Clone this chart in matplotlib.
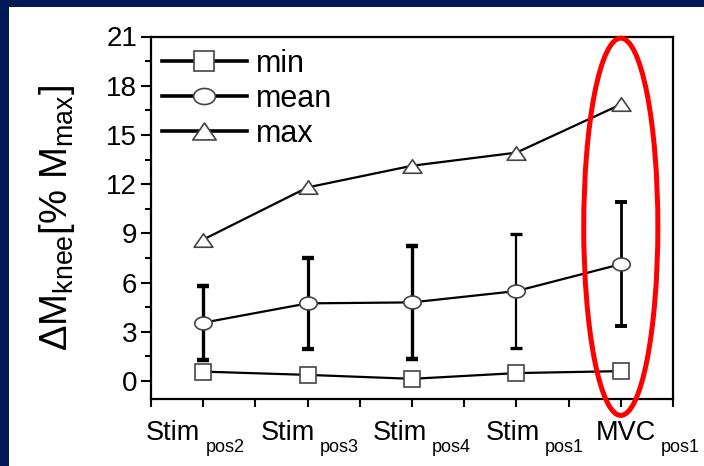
import matplotlib.pyplot as plt
import numpy as np
from matplotlib.path import Path
from matplotlib.patches import Ellipse, Rectangle
from matplotlib.ticker import FixedLocator, MultipleLocator

plt.rcParams['font.family'] = ['Liberation Sans', 'DejaVu Sans']
plt.rcParams['mathtext.fontset'] = 'custom'
plt.rcParams['mathtext.rm'] = 'Liberation Sans'
plt.rcParams['mathtext.it'] = 'Liberation Sans:italic'

# ---------------- donnees
conditions = ['Stim', 'Stim', 'Stim', 'Stim', 'MVC']
positions = ['pos2', 'pos3', 'pos4', 'pos1', 'pos1']
val_min = [0.57, 0.37, 0.13, 0.48, 0.6]
val_mean = [3.55, 4.73, 4.79, 5.48, 7.12]
val_sd = [2.26, 2.78, 3.44, 3.47, 3.78]
val_max = [8.62, 11.8, 13.12, 13.92, 16.86]

# ellipse rouge autour de MVC (centre x, centre y, largeur, hauteur)
ellipse_mvc = (5, 9.4, 0.71, 23.0)

# decalage horizontal (px) des etiquettes, placees a la main sur l'original
decalage = [-30, -20, -12, -4, 5]

x = np.arange(1, len(conditions) + 1)

# marqueurs "aplatis" comme sur l'original
t = np.linspace(0, 2 * np.pi, 60)
oval = Path(np.column_stack([np.cos(t), 0.74 * np.sin(t)]), closed=True)
tri = Path([(-1, -0.72), (1, -0.72), (0, 0.72), (-1, -0.72)], closed=True)

fig = plt.figure(figsize=(7.04, 4.66), dpi=100, facecolor='#001a57')
fond = Rectangle((9 / 704, 0), 1, 1 - 7 / 466, transform=fig.transFigure,
                 facecolor='white', edgecolor='none', zorder=-10)
fig.patches.append(fond)
ax = fig.add_axes([151 / 704, 1 - 399 / 466, 522 / 704, 362.5 / 466])
ax.set_zorder(1)

style = dict(color='black', lw=1.6, markerfacecolor='white',
             markeredgecolor='#444444', markeredgewidth=1.2)
ax.plot(x, val_min, marker='s', ms=11, label='min', zorder=3, **style)
ax.plot(x, val_mean, marker=oval, ms=12.5, label='mean', zorder=4, **style)
ax.plot(x, val_max, marker=tri, ms=13.5, label='max', zorder=3, **style)

# barres d'erreur (epaisseur variable comme sur la figure)
bar_lw = [2.4, 2.3, 2.4, 1.6, 2.0]
for i in range(len(x)):
    ax.errorbar(x[i], val_mean[i], yerr=val_sd[i], fmt='none', ecolor='black',
                elinewidth=bar_lw[i], capsize=4, capthick=bar_lw[i] + 0.8, zorder=2)

cx, cy, w, h = ellipse_mvc
ax.add_patch(Ellipse((cx, cy), w, h, facecolor='none', edgecolor='#ff0000',
                     lw=3.6, clip_on=False, zorder=5))

ax.set_xlim(0.5, 5.5)
ax.set_ylim(-1.1, 21)
ax.set_xticks(x)
ax.xaxis.set_minor_locator(FixedLocator(np.arange(0.5, 6, 1)))
ax.set_yticks(np.arange(0, 22, 3))
ax.yaxis.set_minor_locator(MultipleLocator(1.5))

ax.tick_params(axis='both', which='both', direction='out', width=1.5)
ax.tick_params(axis='y', which='major', length=7, pad=3, labelsize=20)
ax.tick_params(axis='y', which='minor', length=4)
ax.tick_params(axis='x', which='both', length=6, labelbottom=False)
for s in ax.spines.values():
    s.set_linewidth(1.6)

# etiquettes de l'axe x : texte principal + indice plus petit et plus bas
for i in range(len(x)):
    principal = ax.annotate(conditions[i], xy=(x[i], 0), xycoords=('data', 'axes fraction'),
                            xytext=(decalage[i], -41), textcoords='offset pixels',
                            ha='center', va='baseline', fontsize=19.5, annotation_clip=False)
    ax.annotate(positions[i], xy=(1, 0), xycoords=principal, xytext=(5, -6),
                textcoords='offset pixels', ha='left', va='baseline', fontsize=13,
                annotation_clip=False)

ax.set_ylabel('ΔM$_{\\mathregular{knee}}$[% M$_{\\mathregular{max}}$]', fontsize=27.5, labelpad=21)

leg = ax.legend(loc='upper left', bbox_to_anchor=(0.0, 0.995), frameon=False, fontsize=22,
                handlelength=2.8, handletextpad=0.3, labelspacing=0.16, borderaxespad=0.1,
                markerscale=1.25, borderpad=0.25)
for l in leg.get_lines():
    l.set_linewidth(2.6)

fig.savefig('out.png', dpi=100, facecolor=fig.get_facecolor())
